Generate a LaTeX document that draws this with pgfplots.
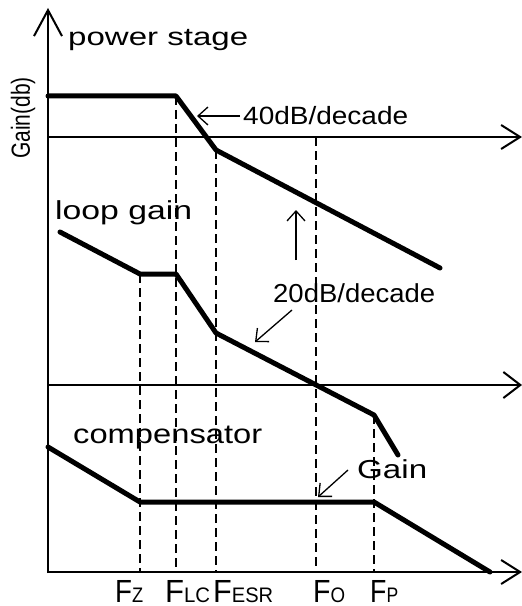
\documentclass[border=0pt]{standalone}
\usepackage{fontspec}
\setmainfont{Liberation Sans}
\usepackage{graphicx}
\usepackage{pgfplots}
\pgfplotsset{compat=1.18}
\usetikzlibrary{arrows.meta}
\newcommand{\lab}[3]{\resizebox{#1bp}{\height}{\fontsize{#2bp}{#2bp}\selectfont #3}}
\newcommand{\sub}[1]{{\fontsize{21bp}{21bp}\selectfont #1}}
\tikzset{
  axisline/.style={line width=2bp},
  curve/.style={line width=5bp, line join=round, line cap=round},
  dsh/.style={line width=1.6bp, dash pattern=on 9bp off 5bp},
  ann/.style={line width=1.3bp, -{Straight Barb[length=10bp,width=18bp]}},
  txt/.style={anchor=base west, inner sep=0pt}}
\begin{document}
\begin{tikzpicture}
\begin{axis}[scale only axis, width=522bp, height=606bp,
  xmin=0, xmax=522, ymin=0, ymax=606, y dir=reverse,
  hide axis, clip=false,
  every axis plot/.append style={no marks, black}]
% axes
\addplot[axisline, -{Straight Barb[length=26bp,width=28bp]}] coordinates {(48,573) (48,8)};
\addplot[axisline, -{Straight Barb[length=19bp,width=24bp]}] coordinates {(47,137) (522,137)};
\addplot[axisline, -{Straight Barb[length=17bp,width=26bp]}] coordinates {(47,385) (522,385)};
\addplot[axisline, -{Straight Barb[length=19bp,width=24bp]}] coordinates {(47,572) (522,572)};
% dashed frequency markers
\addplot[dsh] coordinates {(140,274) (140,572)};
\addplot[dsh] coordinates {(176,96) (176,572)};
\addplot[dsh] coordinates {(216,150) (216,572)};
\addplot[dsh] coordinates {(316,137) (316,572)};
\addplot[dsh] coordinates {(374,415) (374,572)};
% power stage
\addplot[curve] coordinates {(48,96) (176,96) (216,150) (440,268)};
% loop gain
\addplot[curve] coordinates {(60,232) (140,274) (176,274) (216,333) (374,415) (398,455)};
% compensator
\addplot[curve] coordinates {(48,447) (140,502) (374,502) (490,572)};
% annotation arrows
\addplot[ann] coordinates {(240,116) (197,116)};
\addplot[ann] coordinates {(296,260) (296,210)};
\addplot[ann] coordinates {(292,310) (255,342)};
\addplot[ann] coordinates {(348,470) (318,497)};
% texts
\node[txt] at (axis cs:68,46) {\lab{180}{25}{power stage}};
\node[txt] at (axis cs:243,125) {\lab{165}{25}{40dB/decade}};
\node[txt] at (axis cs:55,219) {\lab{137}{26}{loop gain}};
\node[txt] at (axis cs:273,302) {\lab{162}{26}{20dB/decade}};
\node[txt] at (axis cs:73,443) {\lab{189}{27}{compensator}};
\node[txt] at (axis cs:357,478) {\lab{70}{26}{Gain}};
\node[rotate=90, anchor=center, inner sep=0pt] at (axis cs:23,118) {\scalebox{1}[1.25]{\fontsize{21bp}{21bp}\selectfont Gain(db)}};
\node[txt] at (axis cs:115,602) {\lab{28}{32}{F\sub{Z}}};
\node[txt] at (axis cs:165,602) {\lab{45}{32}{F\sub{LC}}};
\node[txt] at (axis cs:213,602) {\lab{60}{32}{F\sub{ESR}}};
\node[txt] at (axis cs:313,602) {\lab{32}{32}{F\sub{O}}};
\node[txt] at (axis cs:370,602) {\lab{28}{32}{F\sub{P}}};
\end{axis}
\pgfresetboundingbox
\path (0,0) rectangle (522bp,606bp);
\end{tikzpicture}
\end{document}
